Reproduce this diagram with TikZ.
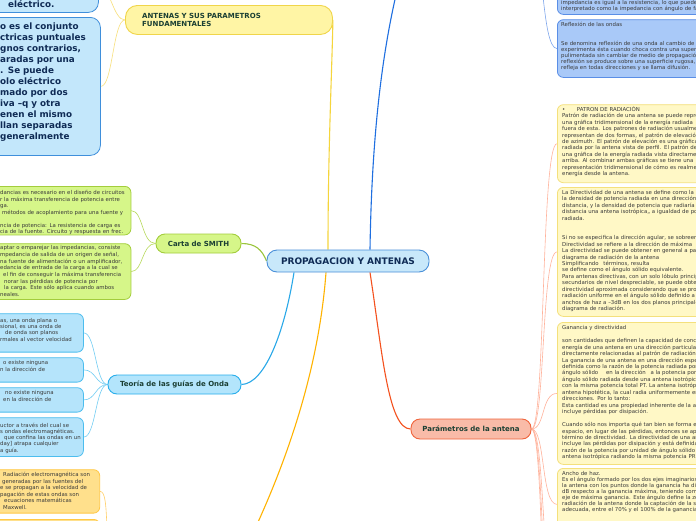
\documentclass[tikz,border=0pt]{standalone}
\usepackage{fontspec}
\setmainfont{DejaVu Sans}
\pgfdeclarelayer{bg}
\pgfsetlayers{bg,main}
\definecolor{txtc}{HTML}{3A3A3A}
\definecolor{navy}{HTML}{0F2B55}
\definecolor{dgreen}{HTML}{1B3F33}
\definecolor{cenfill}{HTML}{C8E8FA}
\definecolor{cenline}{HTML}{4A90D9}
\definecolor{bbfill}{HTML}{C3E7FB}
\definecolor{bbline}{HTML}{3F8FDB}
\definecolor{antfill}{HTML}{FFF5A5}
\definecolor{antline}{HTML}{F0D54A}
\definecolor{grfill}{HTML}{D6F689}
\definecolor{grline}{HTML}{A3CD3C}
\definecolor{gufill}{HTML}{B5E4FB}
\definecolor{guline}{HTML}{4CBDEE}
\definecolor{teofill}{HTML}{B3E5FC}
\definecolor{teoline}{HTML}{28AEEB}
\definecolor{orfill}{HTML}{FFE08C}
\definecolor{orline}{HTML}{FFC845}
\definecolor{parfill}{HTML}{F9BBA8}
\definecolor{parline}{HTML}{F0643C}
\definecolor{yfill}{HTML}{FFF8C6}
\definecolor{yline}{HTML}{F4E07C}
\definecolor{rbfill}{HTML}{A9C9F8}
\definecolor{rbline}{HTML}{5A8EE6}
\definecolor{cYel}{HTML}{F5D53C}
\definecolor{cBlue}{HTML}{1F6FE0}
\definecolor{cOra}{HTML}{FFB300}
\definecolor{cSky}{HTML}{29A8E8}
\definecolor{cRed}{HTML}{F4511E}
\definecolor{cGrn}{HTML}{9BC53D}
\definecolor{kYel}{HTML}{F8E07C}
\definecolor{kGrn}{HTML}{B8DA5C}
\definecolor{kSky}{HTML}{72CDF3}
\definecolor{kOra}{HTML}{FFCF66}
\definecolor{kRed}{HTML}{FFB39C}
\definecolor{kBlue}{HTML}{7EA6EC}
\begin{document}
\begin{tikzpicture}[x=1pt,y=-1pt,
  shp/.style={draw, line width=0.8pt, rounded corners=6pt, inner sep=0pt, anchor=north west},
  stxt/.style={anchor=base west, inner sep=0pt, text width=230pt, align=left, text=txtc, font=\fontsize{5.4}{6.45}\selectfont},
  btxt/.style={anchor=base west, inner sep=0pt, text width=160pt, align=left, text=navy, font=\fontsize{8.8}{11}\selectfont\bfseries},
  topic/.style={draw, line width=0.9pt, rounded corners=9pt, inner sep=0pt, font=\fontsize{7}{8.7}\selectfont\bfseries, text=dgreen},
  mainl/.style={line width=1.1pt},
  kidl/.style={line width=0.6pt},
]
\useasboundingbox (0,0) rectangle (696,520);

% ---------- main topics
\node[draw=cenline, fill=cenfill, line width=0.9pt, rounded corners=10pt, minimum width=162pt, minimum height=22pt, inner sep=0pt, font=\fontsize{9}{10}\selectfont\bfseries, text=navy] (cen) at (348,261) {PROPAGACION Y ANTENAS};

\node[topic, draw=antline, fill=antfill, anchor=north west, minimum width=207pt, minimum height=29pt, rounded corners=12pt] (ant) at (125,5) {};
\node[anchor=base west, inner sep=0pt, text width=180pt, align=left, font=\fontsize{7}{8.7}\selectfont\bfseries, text=dgreen] (antT) at (142,18.2) {ANTENAS Y SUS PARAMETROS\\FUNDAMENTALES};

\node[topic, draw=grline, fill=grfill, minimum width=85pt, minimum height=19pt] (carta) at (198.5,243.5) {Carta de SMITH};
\node[topic, draw=teoline, fill=teofill, minimum width=133pt, minimum height=19pt] (teo) at (174.5,384.5) {Teoría de las guías de Onda};
\node[topic, draw=parline, fill=parfill, minimum width=120pt, minimum height=20pt] (par) at (471,429) {Parámetros de la antena};

% ---------- left: bold blue boxes
\node[shp, draw=bbline, fill=bbfill, rounded corners=10pt, minimum width=128pt, minimum height=52pt] (bb1) at (-30,-40) {};
\node[btxt] (bb1t) at (8,7) {eléctrico.};
\node[shp, draw=bbline, fill=bbfill, rounded corners=10pt, minimum width=130pt, minimum height=138pt] (bb2) at (-30,17) {};
\node[btxt] (bb2t) at (0,29) {o es el conjunto\\ctricas puntuales\\gnos contrarios,\\aradas por una\\. Se puede\\olo eléctrico\\mado por dos\\iva –q y otra\\enen el mismo\\llan separadas\\generalmente};

% ---------- left: green boxes
\node[shp, draw=grline, fill=grfill, minimum width=160.5pt, minimum height=48.5pt] (g1) at (-30,186) {};
\node[stxt, font=\fontsize{5.4}{6.5}\selectfont] (g1t) at (0,194.8) {dancias es necesario en el diseño de circuitos\\r la máxima transferencia de potencia entre\\ga.\\\hspace*{2pt}métodos de acoplamiento para una fuente y\\[6.5pt]ncia de potencia: La resistencia de carga es\\cia de la fuente. Circuito y respuesta en frec.};
\node[shp, draw=grline, fill=grfill, minimum width=160.5pt, minimum height=55.7pt] (g2) at (-30,243.3) {};
\node[stxt, font=\fontsize{5.4}{6.67}\selectfont] (g2t) at (0,249.8) {aptar o emparejar las impedancias, consiste\\mpedancia de salida de un origen de señal,\\na fuente de alimentación o un amplificador,\\edancia de entrada de la carga a la cual se\\\hspace*{3pt}el fin de conseguir la máxima transferencia\\\hspace*{4pt}norar las pérdidas de potencia por\\\hspace*{4pt}la carga. Este sólo aplica cuando ambos\\neales.};

% ---------- left: wave-guide boxes
\node[shp, draw=guline, fill=gufill, minimum width=113pt, minimum height=38.4pt] (gA) at (-30,313.3) {};
\node[stxt, font=\fontsize{5.4}{6.3}\selectfont] (gAt) at (0,322.2) {as, una onda plana o\\sional, es una onda de\\\hspace*{5pt}de onda son planos\\rmales al vector velocidad};
\node[shp, draw=guline, fill=gufill, minimum width=113pt, minimum height=24.4pt] (gB) at (-30,357.3) {};
\node[stxt, font=\fontsize{5.4}{6.8}\selectfont] (gBt) at (0,364.2) {\hspace*{3pt}o existe ninguna\\n la dirección de};
\node[shp, draw=guline, fill=gufill, minimum width=113pt, minimum height=24.4pt] (gC) at (-30,387.3) {};
\node[stxt, font=\fontsize{5.4}{6.8}\selectfont] (gCt) at (0,394.8) {\hspace*{5pt}no existe ninguna\\\hspace*{3pt}en la dirección de};
\node[shp, draw=guline, fill=gufill, minimum width=113pt, minimum height=38.7pt] (gD) at (-30,417.3) {};
\node[stxt, font=\fontsize{5.4}{6.2}\selectfont] (gDt) at (0,427.2) {uctor a través del cual se\\s ondas electromagnéticas.\\\hspace*{4pt}que confina las ondas en un\\day] atrapa cualquier\\a guía.};

% ---------- left: orange boxes
\node[shp, draw=orline, fill=orfill, minimum width=129.3pt, minimum height=43.4pt] (o1) at (-30,469.3) {};
\node[stxt, font=\fontsize{5.4}{6.5}\selectfont] (o1t) at (0,476.5) {\hspace*{3pt}Radiación electromagnética son\\\hspace*{2pt}generadas por las fuentes del\\e se propagan a la velocidad de\\pagación de estas ondas son\\\hspace*{4pt}ecuaciones matemáticas\\\hspace*{3pt}Maxwell.};
\node[shp, draw=orline, fill=orfill, minimum width=129.3pt, minimum height=60pt] (o2) at (-30,519) {};

% ---------- right: blue boxes
\node[shp, draw=rbline, fill=rbfill, minimum width=203pt, minimum height=54pt] (rb1) at (557,-40) {};
\node[stxt, font=\fontsize{5.4}{6}\selectfont] (rb1t) at (561,4.8) {impedancia es igual a la resistencia, lo que puede ser\\interpretado como la impedancia con ángulo de fase};
\node[shp, draw=rbline, fill=rbfill, minimum width=203pt, minimum height=57.7pt] (rb2) at (557,19.3) {};
\node[stxt, font=\fontsize{5.4}{6.2}\selectfont] (rb2t) at (561,26.5) {Reflexión de las ondas\\[12.4pt]Se denomina reflexión de una onda al cambio de dirección\\experimenta ésta cuando choca contra una superficie\\pulimentada sin cambiar de medio de propagación.\\reflexión se produce sobre una superficie rugosa, la onda\\refleja en todas direcciones y se llama difusión.};

% ---------- right: yellow boxes
\node[shp, draw=yline, fill=yfill, minimum width=203pt, minimum height=78pt] (pat) at (557,104.3) {};
\node[stxt, font=\fontsize{5.4}{6.4}\selectfont] (patt) at (562,111.5) {•\hspace*{11.5pt}PATRON DE RADIACIÓN\\Patrón de radiación de una antena se puede representar\\una gráfica tridimensional de la energía radiada\\fuera de esta. Los patrones de radiación usualmente\\representan de dos formas, el patrón de elevación\\de azimuth. El patrón de elevación es una gráfica\\radiada por la antena vista de perfil. El patrón de\\una gráfica de la energía radiada vista directamente\\arriba. Al combinar ambas gráficas se tiene una\\representación tridimensional de cómo es realmente\\energía desde la antena.};

\node[shp, draw=yline, fill=yfill, minimum width=203pt, minimum height=129pt] (dir) at (557,187) {};
\node[stxt] (dirt) at (562,194.5) {La Directividad de una antena se define como la\\la densidad de potencia radiada en una dirección\\distancia, y la densidad de potencia que radiaría\\distancia una antena isotrópica,, a igualdad de potencia\\radiada.\\[12.9pt]Si no se especifica la dirección agular, se sobreentiende\\Directividad se refiere a la dirección de máxima\\La directividad se puede obtener en general a partir\\diagrama de radiación de la antena\\Simplificando\hspace*{3pt} términos, resulta\\se define como el ángulo sólido equivalente.\\Para antenas directivas, con un solo lóbulo principal\\secundarios de nivel despreciable, se puede obtener\\directividad aproximada considerando que se produce\\radiación uniforme en el ángulo sólido definido a\\anchos de haz a –3dB en los dos planos principales\\diagrama de radiación.};

\node[shp, draw=yline, fill=yfill, minimum width=203pt, minimum height=142pt] (gan) at (557,322) {};
\node[stxt] (gant) at (562,329.8) {Ganancia y directividad\\[6.45pt]son cantidades que definen la capacidad de concentrar\\energía de una antena en una dirección particular\\directamente relacionadas al patrón de radiación\\La ganancia de una antena en una dirección específica\\definida como la razón de la potencia radiada por\\ángulo sólido\hspace*{6pt} en la dirección\hspace*{3pt} a la potencia por\\ángulo sólido radiada desde una antena isotrópica\\con la misma potencia total PT. La antena isotrópica\\antena hipotética, la cual radia uniformemente en\\direcciones. Por lo tanto:\\Esta cantidad es una propiedad inherente de la antena\\incluye pérdidas por disipación.\\[6.45pt]Cuando sólo nos importa qué tan bien se forma el\\espacio, en lugar de las pérdidas, entonces se aplica\\término de directividad. La directividad de una antena\\incluye las pérdidas por disipación y está definida\\razón de la potencia por unidad de ángulo sólido\\antena isotrópica radiando la misma potencia PR};

\node[shp, draw=yline, fill=yfill, minimum width=203pt, minimum height=72pt] (anc) at (557,468) {};
\node[stxt, font=\fontsize{5.4}{5.9}\selectfont] (anct) at (562,475.8) {Ancho de haz.\\Es el ángulo formado por los dos ejes imaginarios\\la antena con los puntos donde la ganancia ha disminuido\\dB respecto a la ganancia máxima, teniendo como\\eje de máxima ganancia. Este ángulo define la zona\\radiación de la antena donde la captación de la señal\\adecuada, entre el 70\% y el 100\% de la ganancia};

% ---------- connectors (behind the nodes)
\begin{pgfonlayer}{bg}
\fill[white] (0,0) rectangle (696,520);
\begin{scope}
\clip (0,0) rectangle (696,520);
\coordinate (topblue) at (405,-40);
\coordinate (ondas) at (240,560);
\coordinate (ondasW) at (113,545);
\coordinate (bluepar) at (530,-60);
\coordinate (pd1) at (557,600);
\coordinate (pd2) at (557,680);
\coordinate (pd3) at (557,760);
% main branches
\draw[cYel, mainl] ([xshift=-20pt]cen.north) .. controls (328,150) and (332,70) .. (ant.east);
\draw[cBlue, mainl] ([xshift=22pt]cen.north) .. controls (372,120) and (385,30) .. (topblue);
\draw[cGrn, mainl] (carta.east) .. controls (256,243.5) and (262,250) .. (cen.west);
\draw[cSky, mainl] ([xshift=-54pt]cen.south) .. controls (284,335) and (264,384) .. (teo.east);
\draw[cOra, mainl] ([xshift=-22pt]cen.south) .. controls (318,380) and (280,480) .. (ondas);
\draw[cRed, mainl] ([xshift=22pt]cen.south) .. controls (382,350) and (388,429) .. (par.west);
% ANTENAS children
\draw[kYel, kidl] (ant.west) .. controls +(-12,0) and +(12,0) .. (bb1.east);
\draw[kYel, kidl] (ant.west) .. controls +(-12,0) and +(12,0) .. (bb2.east);
% Carta children
\draw[kGrn, kidl] (carta.west) .. controls +(-14,0) and +(12,0) .. (g1.east);
\draw[kGrn, kidl] (carta.west) .. controls +(-14,0) and +(12,0) .. (g2.east);
% Teoria children
\draw[kSky, kidl] (teo.west) .. controls +(-12,0) and +(12,0) .. (gA.east);
\draw[kSky, kidl] (teo.west) .. controls +(-12,0) and +(12,0) .. (gB.east);
\draw[kSky, kidl] (teo.west) .. controls +(-12,0) and +(12,0) .. (gC.east);
\draw[kSky, kidl] (teo.west) .. controls +(-12,0) and +(12,0) .. (gD.east);
% orange children
\draw[kOra, kidl] (ondasW) .. controls +(-10,0) and +(10,0) .. (o1.east);
\draw[kOra, kidl] (ondasW) .. controls +(-10,0) and +(10,0) .. (o2.east);
% blue top children
\draw[kBlue, kidl] (bluepar) .. controls +(14,0) and +(-16,0) .. (rb1.west);
\draw[kBlue, kidl] (bluepar) .. controls +(14,0) and +(-16,0) .. (rb2.west);
% Parametros children
\draw[kRed, kidl] (par.east) .. controls +(14,0) and +(-16,0) .. (pat.west);
\draw[kRed, kidl] (par.east) .. controls +(14,0) and +(-16,0) .. (dir.west);
\draw[kRed, kidl] (par.east) .. controls +(14,0) and +(-16,0) .. (gan.west);
\draw[kRed, kidl] (par.east) .. controls +(14,0) and +(-16,0) .. (anc.west);
\draw[kRed, kidl] (par.east) .. controls +(14,0) and +(-16,0) .. (pd1);
\draw[kRed, kidl] (par.east) .. controls +(14,0) and +(-16,0) .. (pd2);
\draw[kRed, kidl] (par.east) .. controls +(14,0) and +(-16,0) .. (pd3);
\end{scope}
\end{pgfonlayer}
\end{tikzpicture}
\end{document}
